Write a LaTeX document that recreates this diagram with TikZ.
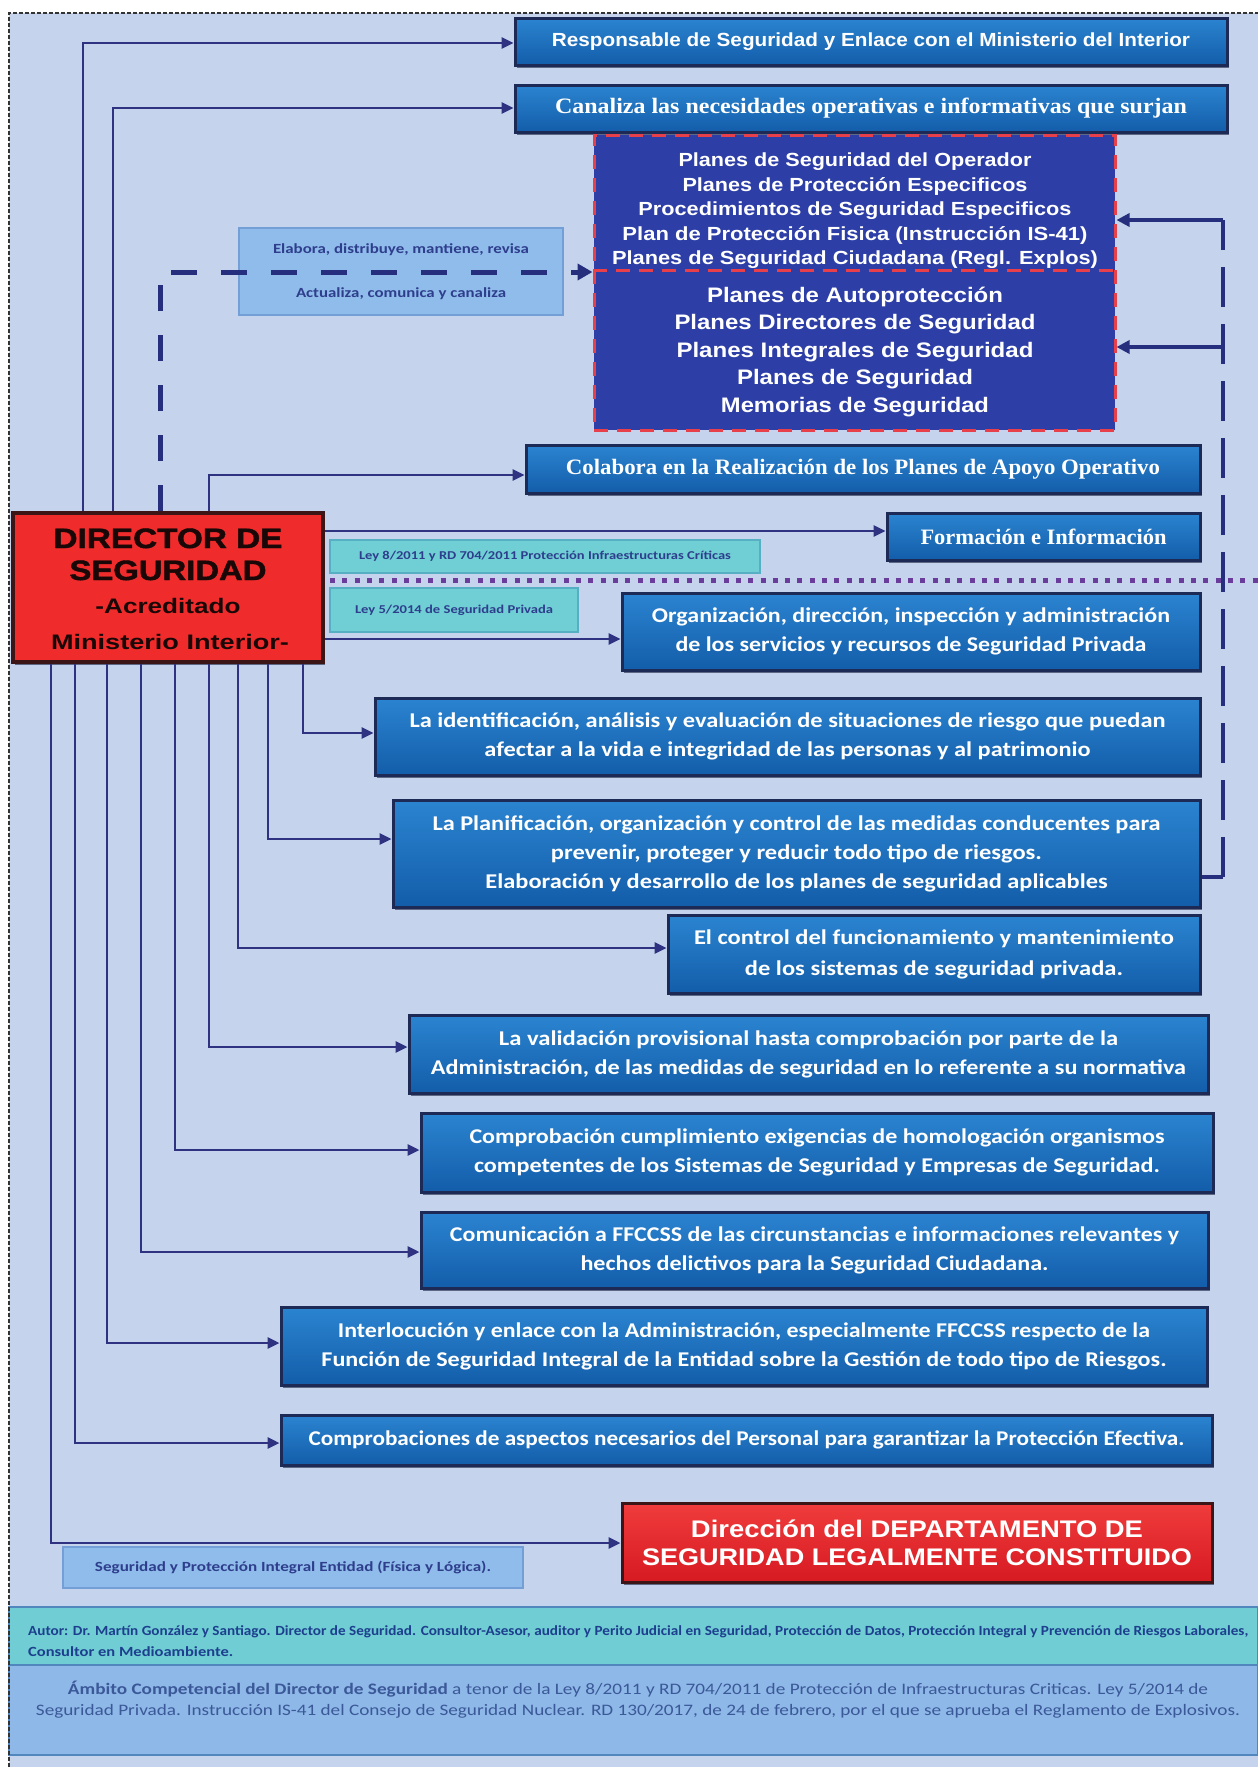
\documentclass[tikz,border=0pt]{standalone}
\usepackage{fontspec}
\usepackage{graphicx}
\setmainfont{Carlito}
\newfontfamily\arialf{Liberation Sans}
\newfontfamily\timesf{Liberation Serif}
\newfontfamily\heavyf[BoldFeatures={FakeBold=1.5}]{Liberation Sans}
\usetikzlibrary{arrows.meta,fit,shadows}
\newcommand{\fw}[2]{\resizebox{#1pt}{\height}{#2}}
% empty box: name, x1, y1, x2, y2, style
\newcommand{\bxe}[6]{\node[#6,fit={(#2,#3) (#4,#5)}] (#1) {};}
% box with text: name, x1, y1, x2, y2, box style, text style, text
\newcommand{\bx}[8]{\node[#6,fit={(#2,#3) (#4,#5)}] (#1) {};
  \node[#7] (#1t) at (#1.center) {#8};}
\definecolor{bgc}{HTML}{C5D3EC}
\definecolor{boxtop}{HTML}{2B84D0}
\definecolor{boxbot}{HTML}{135DAA}
\definecolor{boxedge}{HTML}{1D2A55}
\definecolor{shadc}{HTML}{1A2040}
\definecolor{planesc}{HTML}{2D3EA6}
\definecolor{redd}{HTML}{E8404A}
\definecolor{dirred}{HTML}{EF2B2B}
\definecolor{diredge}{HTML}{3C1616}
\definecolor{dirtext}{HTML}{1A0808}
\definecolor{lnc}{HTML}{2E3280}
\definecolor{dashc}{HTML}{262E7E}
\definecolor{purp}{HTML}{6A3C9C}
\definecolor{lblue}{HTML}{8FBCEB}
\definecolor{lblueedge}{HTML}{739FD6}
\definecolor{teal}{HTML}{6FCFD5}
\definecolor{tealedge}{HTML}{56AFC2}
\definecolor{labtext}{HTML}{2E3E8C}
\definecolor{foota}{HTML}{6FCDD3}
\definecolor{footb}{HTML}{8EB8E8}
\definecolor{footedge}{HTML}{5287BE}
\definecolor{autorc}{HTML}{1D3F8E}
\definecolor{ambc}{HTML}{3B5898}
\definecolor{redtop}{HTML}{F03C3C}
\definecolor{redbot}{HTML}{D61A22}
\tikzset{
  bbox/.style={inner sep=0pt, draw=boxedge, line width=3pt, top color=boxtop, bottom color=boxbot,
    drop shadow={shadow xshift=1.5pt, shadow yshift=-2.5pt, fill=shadc, opacity=0.6}},
  btxt/.style={inner sep=0pt, text=white, align=center, font=\bfseries\fontsize{21}{29}\selectfont},
  stxt/.style={inner sep=0pt, text=white, align=center, font=\timesf\bfseries\fontsize{22}{26}\selectfont},
  atxt/.style={inner sep=0pt, text=white, align=center, font=\arialf\bfseries\fontsize{19}{22}\selectfont},
  planesbox/.style={inner sep=0pt, fill=planesc, draw=redd, line width=3pt, dash pattern=on 14pt off 9pt},
  ptext/.style={inner sep=0pt, text=white, align=center},
  dirbox/.style={inner sep=0pt, fill=dirred, draw=diredge, line width=4pt,
    drop shadow={shadow xshift=2pt, shadow yshift=-3pt, fill=shadc, opacity=0.6}},
  dirt/.style={inner sep=0pt, anchor=base, text=dirtext},
  redbox/.style={inner sep=0pt, draw=diredge, line width=3pt, top color=redtop, bottom color=redbot,
    drop shadow={shadow xshift=2pt, shadow yshift=-3pt, fill=shadc, opacity=0.6}},
  redtxt/.style={inner sep=0pt, text=white, align=center, font=\arialf\bfseries\fontsize{24}{28}\selectfont},
  lbbox/.style={inner sep=0pt, fill=lblue, draw=lblueedge, line width=1.5pt},
  labtxt/.style={inner sep=0pt, text=labtext, align=center},
  tealbox/.style={inner sep=0pt, fill=teal, draw=tealedge, line width=1.5pt},
  tealtxt/.style={inner sep=0pt, text=labtext, align=center, font=\bfseries\fontsize{12}{14}\selectfont},
  footA/.style={inner sep=0pt, fill=foota, draw=footedge, line width=1.5pt},
  footB/.style={inner sep=0pt, fill=footb, draw=footedge, line width=1.5pt},
  conn/.style={draw=lnc, line width=2.7pt, -{Triangle[length=12pt,width=11pt]}},
  thdash/.style={draw=dashc, line width=5pt, dash pattern=on 26pt off 24pt, -{Triangle[length=15pt,width=16pt]}},
  rdash/.style={draw=dashc, line width=4pt, dash pattern=on 40pt off 17pt},
  rsolid/.style={draw=dashc, line width=4pt},
  rarrow/.style={draw=dashc, line width=4pt, -{Triangle[length=13pt,width=13pt]}},
  purpdot/.style={draw=purp, line width=5pt, dash pattern=on 5pt off 7.3pt},
  border/.style={draw=black!80, line width=2.5pt, dash pattern=on 4pt off 2pt}
}
\begin{document}
\begin{tikzpicture}[x=1pt,y=-1pt]
\useasboundingbox (0,0) rectangle (1258,1767);
\fill[white] (0,0) rectangle (1258,1767);
\fill[bgc] (9,13) rectangle (1258,1767);

% footer
\bxe{ft1}{9}{1607}{1258}{1665}{footA}
\bxe{ft2}{9}{1665}{1258}{1755}{footB}
\node[inner sep=0pt, anchor=west, align=left, text=autorc, font=\bfseries\fontsize{14}{21}\selectfont] (autor) at (28,1641)
 {\fw{1220}{Autor: Dr. Martín González y Santiago. Director de Seguridad. Consultor-Asesor, auditor y Perito Judicial en Seguridad, Protección de Datos, Protección Integral y Prevención de Riesgos Laborales,}\\
  \fw{205}{Consultor en Medioambiente.}};
\node[inner sep=0pt, align=center, text=ambc, font=\fontsize{16}{21}\selectfont] (ambito) at (638,1700)
 {\fw{1140}{\textbf{Ámbito Competencial del Director de Seguridad} a tenor de la Ley 8/2011 y RD 704/2011 de Protección de Infraestructuras Criticas. Ley 5/2014 de}\\
  \fw{1204}{Seguridad Privada. Instrucción IS-41 del Consejo de Seguridad Nuclear. RD 130/2017, de 24 de febrero, por el que se aprueba el Reglamento de Explosivos.}};

% top boxes
\bx{b1}{515}{18}{1227}{65}{bbox}{atxt}{\fw{638}{Responsable de Seguridad y Enlace con el Ministerio del Interior}}
\bx{b2}{515}{85}{1227}{132}{bbox}{stxt}{\fw{632}{Canaliza las necesidades operativas e informativas que surjan}}

% planes box
\bxe{planes}{594}{135}{1115}{430}{planesbox}
\node[ptext, font=\arialf\bfseries\fontsize{19}{24.5}\selectfont] (plU) at (855,211)
 {\fw{353}{Planes de Seguridad del Operador}\\
  \fw{345}{Planes de Protección Especificos}\\
  \fw{433}{Procedimientos de Seguridad Especificos}\\
  \fw{465}{Plan de Protección Fisica  (Instrucción IS-41)}\\
  \fw{486}{Planes de Seguridad Ciudadana  (Regl. Explos)}};
\node[ptext, font=\arialf\bfseries\fontsize{21}{27.5}\selectfont] (plL) at (855,352)
 {\fw{296}{Planes de Autoprotección}\\
  \fw{361}{Planes Directores de Seguridad}\\
  \fw{357}{Planes Integrales de Seguridad}\\
  \fw{236}{Planes de Seguridad}\\
  \fw{268}{Memorias de Seguridad}};
\draw[draw=redd, line width=3pt, dash pattern=on 14pt off 9pt] (planes.west |- 0,270) -- (planes.east |- 0,270);

% label box elabora
\bx{elab}{239}{228}{563}{315}{lbbox}{labtxt, font=\bfseries\fontsize{14}{44}\selectfont}{\fw{256}{Elabora, distribuye, mantiene, revisa}\\ \fw{210}{Actualiza, comunica y canaliza}}

\bx{colab}{526}{445}{1200}{493}{bbox}{stxt}{\fw{594}{Colabora en la Realización de los Planes de Apoyo Operativo}}
\bx{form}{887}{513}{1200}{560}{bbox}{stxt}{\fw{246}{Formación e Información}}

% director
\bxe{dir}{13}{513}{323}{662}{dirbox}
\node[dirt, font=\heavyf\bfseries\fontsize{28}{30}\selectfont] (d1) at (168,548) {\fw{229}{DIRECTOR DE}};
\node[dirt, font=\heavyf\bfseries\fontsize{28}{30}\selectfont] (d2) at (168,580) {\fw{197}{SEGURIDAD}};
\node[dirt, font=\arialf\bfseries\fontsize{21}{24}\selectfont] (d3) at (168,613) {\fw{145}{-Acreditado}};
\node[dirt, font=\arialf\bfseries\fontsize{21}{24}\selectfont] (d4) at (170,649) {\fw{238}{Ministerio Interior-}};

% teal labels
\bx{teal1}{330}{540}{760}{573}{tealbox}{tealtxt}{\fw{372}{Ley 8/2011 y RD 704/2011 Protección Infraestructuras Críticas}}
\bx{teal2}{330}{588}{578}{632}{tealbox}{tealtxt}{\fw{198}{Ley 5/2014 de Seguridad Privada}}

% middle boxes
\bx{org}{622}{593}{1200}{670}{bbox}{btxt}{\fw{518}{Organización, dirección, inspección y administración}\\ \fw{471}{de los servicios y recursos de Seguridad Privada}}
\bx{ident}{375}{698}{1200}{775}{bbox}{btxt}{\fw{756}{La identificación, análisis y evaluación de situaciones de riesgo que puedan}\\ \fw{606}{afectar a la vida e integridad de las personas y al patrimonio}}
\bx{plan}{393}{800}{1200}{907}{bbox}{btxt}{\fw{728}{La Planificación, organización y control de las medidas conducentes para}\\ \fw{491}{prevenir, proteger y reducir todo tipo de riesgos.}\\ \fw{622}{Elaboración y desarrollo de los planes de seguridad aplicables}}
\bx{ctrl}{668}{915}{1200}{993}{bbox}{btxt, font=\bfseries\fontsize{21}{31}\selectfont}{\fw{480}{El control del funcionamiento y mantenimiento}\\ \fw{378}{de los sistemas de seguridad privada.}}
\bx{valid}{409}{1015}{1208}{1093}{bbox}{btxt}{\fw{619}{La validación provisional  hasta comprobación  por parte de la}\\ \fw{755}{Administración, de las medidas de seguridad en lo referente a su normativa}}
\bx{compr}{421}{1113}{1213}{1192}{bbox}{btxt}{\fw{695}{Comprobación cumplimiento exigencias de homologación organismos}\\ \fw{686}{competentes de los Sistemas de Seguridad y Empresas de Seguridad.}}
\bx{comun}{421}{1212}{1208}{1288}{bbox}{btxt}{\fw{729}{Comunicación a FFCCSS de las circunstancias e informaciones relevantes y}\\ \fw{468}{hechos delictivos para  la Seguridad Ciudadana.}}
\bx{inter}{281}{1307}{1207}{1385}{bbox}{btxt}{\fw{812}{Interlocución y enlace con la Administración, especialmente FFCCSS respecto de la}\\ \fw{845}{Función de  Seguridad Integral de la Entidad sobre la Gestión de todo tipo de Riesgos.}}
\bx{comps}{281}{1415}{1212}{1465}{bbox}{btxt}{\fw{876}{Comprobaciones de aspectos necesarios del Personal para garantizar la Protección Efectiva.}}
\bx{redb}{622}{1503}{1212}{1582}{redbox}{redtxt}{\fw{452}{Dirección del DEPARTAMENTO DE}\\ \fw{550}{SEGURIDAD LEGALMENTE CONSTITUIDO}}
\bx{seglab}{63}{1547}{523}{1588}{lbbox}{labtxt, font=\bfseries\fontsize{14}{16}\selectfont}{\fw{396}{Seguridad y Protección Integral  Entidad (Física y Lógica).}}

% dotted purple divider
\coordinate (dl) at (330,580);
\coordinate (dr) at (1258,580);
\draw[purpdot] (dl) -- (dr);

% connectors above director
\draw[conn] (83,0 |- dir.north) |- (b1.west |- 0,43);
\draw[conn] (113,0 |- dir.north) |- (b2.west |- 0,108);
\draw[thdash] (160,0 |- dir.north) |- (planes.west |- 0,272);
\draw[conn] (209,0 |- dir.north) |- (colab.west |- 0,475);

% connectors right of director
\draw[conn] (dir.east |- 0,531) -- (form.west |- 0,531);
\draw[conn] (dir.east |- 0,639) -- (org.west |- 0,639);

% connectors below director
\draw[conn] (303,0 |- dir.south) |- (ident.west |- 0,733);
\draw[conn] (268,0 |- dir.south) |- (plan.west |- 0,839);
\draw[conn] (238,0 |- dir.south) |- (ctrl.west |- 0,948);
\draw[conn] (209,0 |- dir.south) |- (valid.west |- 0,1047);
\draw[conn] (175,0 |- dir.south) |- (compr.west |- 0,1150);
\draw[conn] (141,0 |- dir.south) |- (comun.west |- 0,1252);
\draw[conn] (107,0 |- dir.south) |- (inter.west |- 0,1343);
\draw[conn] (75,0 |- dir.south) |- (comps.west |- 0,1443);
\draw[conn] (51,0 |- dir.south) |- (redb.west |- 0,1543);

% right feedback line
\coordinate (rc1) at (1223,877);
\coordinate (rc2) at (1223,220);
\coordinate (rc3) at (1223,347);
\draw[rsolid] (plan.east |- rc1) -- (rc1);
\draw[rdash] (rc1) -- (rc2);
\draw[rarrow] (rc2) -- (planes.east |- rc2);
\draw[rarrow] (rc3) -- (planes.east |- rc3);

% outer border
\coordinate (bb1) at (9,1767);
\coordinate (bb2) at (9,13);
\coordinate (bb3) at (1258,13);
\draw[border] (bb1) -- (bb2) -- (bb3);
\end{tikzpicture}
\end{document}
